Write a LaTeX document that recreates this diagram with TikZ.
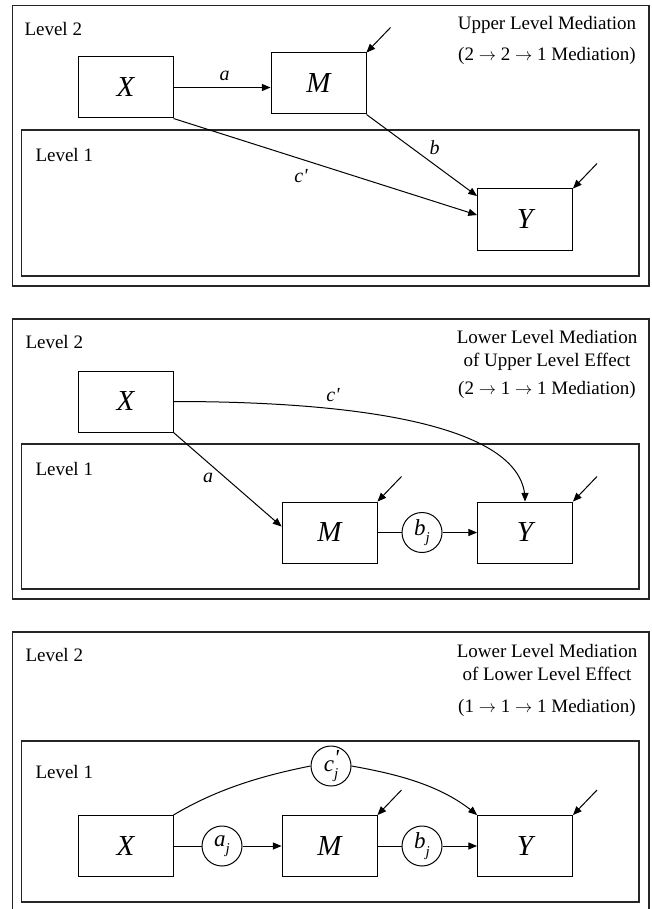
\documentclass[tikz,border=0pt]{standalone}
\usepackage{fontspec}
\setmainfont{Liberation Serif}
\usetikzlibrary{arrows}

\newcommand{\coefj}{\raisebox{-0.7ex}{\fontsize{15}{15}\selectfont\itshape j}}

\tikzset{
  var/.style={draw, minimum width=95pt, minimum height=61pt, inner sep=0pt, font=\fontsize{29}{33}\selectfont\itshape},
  coef/.style={draw, circle, minimum size=40pt, inner sep=0pt, font=\fontsize{23}{26}\selectfont\itshape},
  lab/.style={font=\fontsize{20}{24}\selectfont\itshape, inner sep=0pt},
  txt/.style={font=\fontsize{19}{23}\selectfont, inner sep=0pt},
  frame/.style={line width=1.2pt, black!85},
}

\begin{document}
\begin{tikzpicture}[x=1pt, y=-1pt, line width=1pt]
\useasboundingbox (0,0) rectangle (651,909);

% upper level mediation
\draw[frame] (12.5,5.5) rectangle (649,286);
\draw[frame] (21.5,130) rectangle (639,276);
\node[txt, anchor=west] (l2a) at (24,29.5) {Level 2};
\node[txt, anchor=west] (l1a) at (35,155.5) {Level 1};
\node[txt, anchor=north, align=center] (ta) at (547,16) {Upper Level Mediation\\[8pt](2 $\rightarrow$ 2 $\rightarrow$ 1 Mediation)};
\node[var] (x1) at (125.5,87.5) {X};
\node[var] (m1) at (318.5,83.5) {M};
\node[var] (y1) at (525,219.5) {Y};
\draw[-triangle 45] (x1.east) -- (x1.east -| m1.west);
\draw[-triangle 45] (x1.south east) -- ([yshift=4.5pt]y1.west);
\draw[-triangle 45] (m1.south east) -- ([yshift=23.5pt]y1.west);
\node[lab] (a1) at (224.5,76) {a};
\node[lab] (b1) at (434.5,148) {b};
\node[lab] (c1) at (301,176) {c\textquotesingle};

% lower level mediation, upper level effect
\draw[frame] (12.5,319) rectangle (649,599);
\draw[frame] (21.5,444) rectangle (639,589);
\node[txt, anchor=west] (l2b) at (25,341.5) {Level 2};
\node[txt, anchor=west] (l1b) at (35,469) {Level 1};
\node[txt, anchor=north, align=center] (tb) at (547,330) {Lower Level Mediation\\of Upper Level Effect\\[5pt](2 $\rightarrow$ 1 $\rightarrow$ 1 Mediation)};
\node[var] (x2) at (125.5,401.5) {X};
\node[var] (m2) at (329.5,532.5) {M};
\node[var] (y2) at (525,532.5) {Y};
\node[coef] (bj2) at (422,532.5) {b\coefj};
\draw[-triangle 45] (x2.east) .. controls +(207,0) and +(0,-71) .. (y2.north);
\draw[-triangle 45] (x2.south east) -- ([yshift=6pt]m2.west);
\draw (m2.east) -- (bj2);
\draw[-triangle 45] (bj2) -- (y2.west);
\node[lab] (c2) at (333,395) {c\textquotesingle};
\node[lab] (a2) at (208,478) {a};

% lower level mediation, lower level effect
\draw[frame] (12.5,909) -- (12.5,632) -- (649,632) -- (649,909);
\draw[frame] (21.5,741) rectangle (639,902);
\node[txt, anchor=west] (l2c) at (25,655) {Level 2};
\node[txt, anchor=west] (l1c) at (35,771.5) {Level 1};
\node[txt, anchor=north, align=center] (tc) at (547,644) {Lower Level Mediation\\of Lower Level Effect\\[9pt](1 $\rightarrow$ 1 $\rightarrow$ 1 Mediation)};
\node[var] (x3) at (125.5,846) {X};
\node[var] (m3) at (329.5,846) {M};
\node[var] (y3) at (525,846) {Y};
\node[coef] (aj3) at (222,846) {a\coefj};
\node[coef] (bj3) at (422,846) {b\coefj};
\node[coef] (cj3) at (331,766) {c\rlap{\raisebox{0.55ex}{\textquotesingle}}\coefj};
\draw (x3.east) -- (aj3);
\draw[-triangle 45] (aj3) -- (m3.west);
\draw (m3.east) -- (bj3);
\draw[-triangle 45] (bj3) -- (y3.west);
\draw (x3.north east) .. controls +(45,-27) and +(-45,9) .. (cj3.west);
\draw[-triangle 45] (cj3.east) .. controls +(45,8) and +(-35,-30) .. (y3.north west);

% disturbance arrows
\foreach \v in {m1,y1,m2,y2,m3,y3}
  \draw[-triangle 45] ([shift={(24,-25)}]\v.north east) -- (\v.north east);
\end{tikzpicture}
\end{document}
